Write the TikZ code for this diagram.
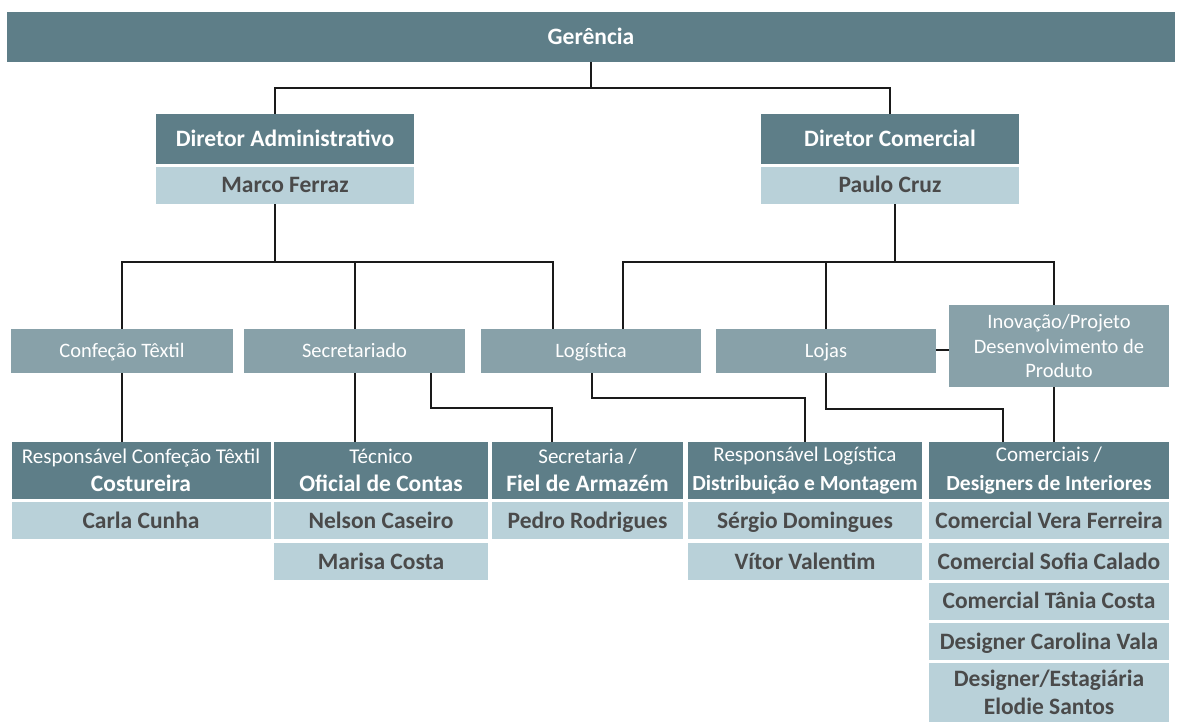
\documentclass[tikz,border=0pt]{standalone}
\usepackage{fontspec}
\setmainfont{Carlito}
\definecolor{dk}{HTML}{5E7E88}
\definecolor{md}{HTML}{88A1A9}
\definecolor{lt}{HTML}{B9D1D9}
\definecolor{tx}{HTML}{4A4A4A}
\definecolor{ln}{HTML}{1A1A1A}
\begin{document}
\begin{tikzpicture}[x=1pt,y=-1pt,
 box/.style={rectangle, inner sep=0pt, anchor=center, align=center},
 one/.style={text height=15pt, text depth=0pt},
 onesm/.style={text height=13pt, text depth=0pt},
 dkbox/.style={box, fill=dk, text=white, font=\fontsize{23.5}{28}\selectfont\bfseries},
 ttlbox/.style={box, fill=dk, text=white, font=\fontsize{21}{28.5}\selectfont},
 dptbox/.style={box, fill=md, text=white, font=\fontsize{20.5}{24.5}\selectfont},
 nmbox/.style={box, fill=lt, text=tx, font=\fontsize{23.5}{28}\selectfont\bfseries},
 wire/.style={draw=ln, line width=2pt}]
\useasboundingbox (0,0) rectangle (1180,722);
\newcommand{\bl}[2][23.5]{{\fontsize{#1}{28.5}\selectfont\bfseries #2}}

% top
\node[dkbox, one, minimum width=1168pt, minimum height=50pt] (ger) at (591,37) {Gerência};
\node[dkbox, one, minimum width=258pt, minimum height=50pt] (dadm) at (285,139) {Diretor Administrativo};
\node[nmbox, one, minimum width=258pt, minimum height=37pt] (dadmn) at (285,185.5) {Marco Ferraz};
\node[dkbox, one, minimum width=258pt, minimum height=50pt] (dcom) at (890,139) {Diretor Comercial};
\node[nmbox, one, minimum width=258pt, minimum height=37pt] (dcomn) at (890,185.5) {Paulo Cruz};

% departments
\node[dptbox, onesm, minimum width=222pt, minimum height=44pt] (conf) at (122,351) {Confeção Têxtil};
\node[dptbox, onesm, minimum width=221pt, minimum height=44pt] (sec) at (354.5,351) {Secretariado};
\node[dptbox, onesm, minimum width=220pt, minimum height=44pt] (log) at (591,351) {Logística};
\node[dptbox, onesm, minimum width=220pt, minimum height=44pt] (loj) at (826,351) {Lojas};
\node[dptbox, minimum width=220pt, minimum height=82pt] (inov) at (1059,346) {Inovação/Projeto\\Desenvolvimento de\\Produto};

% bottom titles
\node[ttlbox, minimum width=259pt, minimum height=57pt] (b1) at (141,470.5) {Responsável Confeção Têxtil\\\bl{Costureira}};
\node[ttlbox, minimum width=214pt, minimum height=57pt] (b2) at (381,470.5) {Técnico\\\bl{Oficial de Contas}};
\node[ttlbox, minimum width=191pt, minimum height=57pt] (b3) at (587.5,470.5) {Secretaria /\\\bl{Fiel de Armazém}};
\node[ttlbox, minimum width=234pt, minimum height=57pt] (b4) at (805,470.5) {Responsável Logística\\\bl[21.5]{Distribuição e Montagem}};
\node[ttlbox, minimum width=240pt, minimum height=57pt] (b5) at (1049,470.5) {Comerciais /\\\bl[21.5]{Designers de Interiores}};

% names
\node[nmbox, one, minimum width=259pt, minimum height=37pt] (b1a) at (141,520.5) {Carla Cunha};
\node[nmbox, one, minimum width=214pt, minimum height=37pt] (b2a) at (381,520.5) {Nelson Caseiro};
\node[nmbox, one, minimum width=214pt, minimum height=37pt] (b2b) at (381,561.5) {Marisa Costa};
\node[nmbox, one, minimum width=191pt, minimum height=37pt] (b3a) at (587.5,520.5) {Pedro Rodrigues};
\node[nmbox, one, minimum width=234pt, minimum height=37pt] (b4a) at (805,520.5) {Sérgio Domingues};
\node[nmbox, one, minimum width=234pt, minimum height=37pt] (b4b) at (805,561.5) {Vítor Valentim};
\node[nmbox, one, minimum width=240pt, minimum height=37pt] (b5a) at (1049,520.5) {Comercial Vera Ferreira};
\node[nmbox, one, minimum width=240pt, minimum height=37pt] (b5b) at (1049,561.5) {Comercial Sofia Calado};
\node[nmbox, one, minimum width=240pt, minimum height=37pt] (b5c) at (1049,601) {Comercial Tânia Costa};
\node[nmbox, one, minimum width=240pt, minimum height=37pt] (b5d) at (1049,641.5) {Designer Carolina Vala};
\node[nmbox, minimum width=240pt, minimum height=59pt] (b5e) at (1049,692.5) {Designer/Estagiária\\Elodie Santos};

% connectors
\coordinate (j0) at (591,88);
\draw[wire] (ger.south) -- (j0);
\draw[wire] ([xshift=-10pt]dadm.north) |- (j0) -| (dcom.north);

\coordinate (j1) at (275,262);
\draw[wire] ([xshift=-10pt]dadmn.south) -- (j1);
\draw[wire] (conf.north) |- (j1) -| ([xshift=-38pt]log.north);
\draw[wire] (sec.north) -- (sec.north |- j1);

\coordinate (j2) at (895,262);
\draw[wire] ([xshift=5pt]dcomn.south) -- (j2);
\draw[wire] ([xshift=32pt]log.north) |- (j2) -| ([xshift=-5pt]inov.north);
\draw[wire] (loj.north) -- (loj.north |- j2);

\draw[wire] (conf.south) -- (conf.south |- b1.north);
\draw[wire] (sec.south) -- (sec.south |- b2.north);
\draw[wire] ([xshift=76pt]sec.south) -- ++(0,35) -| ([xshift=-36pt]b3.north);
\draw[wire] ([xshift=1pt]log.south) -- ++(0,25) -| (b4.north);
\draw[wire] (loj.south) -- ++(0,36) -| ([xshift=-46pt]b5.north);
\draw[wire] ([xshift=-5pt]inov.south) -- ([xshift=5pt]b5.north);
\draw[wire] ([yshift=1pt]loj.east) -- ([yshift=1pt]loj.east -| inov.west);
\end{tikzpicture}
\end{document}
